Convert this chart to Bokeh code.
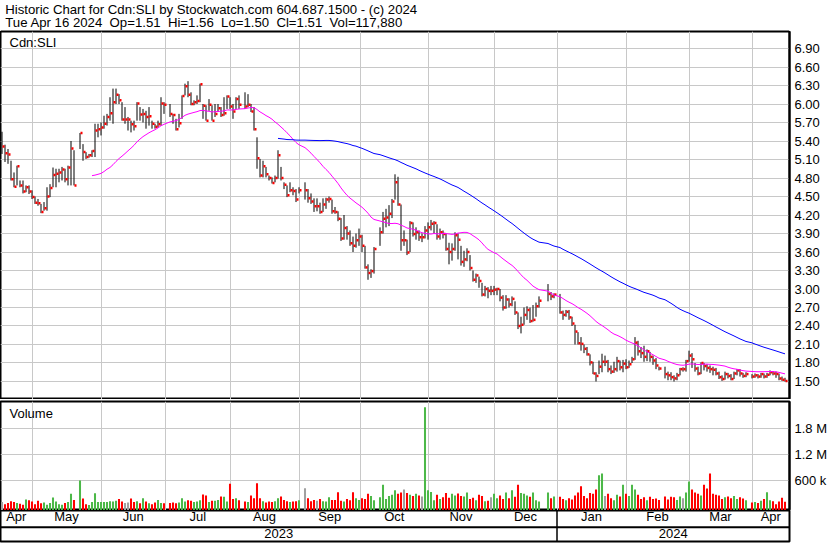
import numpy as np
import pandas as pd
from bokeh.plotting import figure
from bokeh.layouts import column
from bokeh.models import Range1d, FixedTicker, PrintfTickFormatter, Label, ColumnDataSource
from bokeh.core.properties import value
from bokeh.embed import file_html
from bokeh.resources import INLINE

FONT = "Liberation Sans"

# ---------------- data ----------------
first_day = "2023-04-17"
last_day = "2024-04-16"
holidays = ["2023-05-22", "2023-07-03", "2023-08-07", "2023-09-04", "2023-10-09",
            "2023-12-25", "2023-12-26", "2024-01-01", "2024-02-19", "2024-03-29"]

title_line1 = "Historic Chart for Cdn:SLI by Stockwatch.com 604.687.1500 - (c) 2024"
title_line2 = "Tue Apr 16 2024  Op=1.51  Hi=1.56  Lo=1.50  Cl=1.51  Vol=117,880"
symbol_label = "Cdn:SLI"
volume_label = "Volume"

price_ticks = [1.50, 1.80, 2.10, 2.40, 2.70, 3.00, 3.30, 3.60, 3.90, 4.20, 4.50,
               4.80, 5.10, 5.40, 5.70, 6.00, 6.30, 6.60, 6.90]
vol_ticks = [600000, 1200000, 1800000]
vol_tick_labels = ["600 k", "1.2 M", "1.8 M"]
month_labels = ["Apr", "May", "Jun", "Jul", "Aug", "Sep", "Oct", "Nov", "Dec",
                "Jan", "Feb", "Mar", "Apr"]
year_labels = ["2023", "2024"]

close_apr23 = [5.31, 5.20, 5.18, 4.78, 4.66, 4.99, 4.68, 4.58, 4.65, 4.58]
high_apr23 = [5.55, 5.34, 5.27, 5.08, 4.89, 5.00, 4.76, 4.76, 4.68, 4.68]
low_apr23 = [5.19, 5.06, 5.03, 4.76, 4.65, 4.68, 4.65, 4.55, 4.57, 4.54]
vol_apr23 = [110, 60, 90, 130, 110, 90, 70, 50, 170, 150]

close_may = [4.49, 4.40, 4.39, 4.25, 4.31, 4.50, 4.64, 4.85, 4.87, 4.89, 4.94, 4.78, 4.97, 5.28, 4.68, 5.53, 5.22, 5.14, 5.17, 5.24, 5.57, 5.59]
high_may = [4.60, 4.50, 4.46, 4.38, 4.41, 4.65, 4.70, 4.97, 4.95, 4.95, 4.98, 4.95, 5.00, 5.40, 5.25, 5.53, 5.35, 5.22, 5.19, 5.25, 5.68, 5.68]
low_may = [4.46, 4.38, 4.35, 4.23, 4.27, 4.27, 4.49, 4.65, 4.65, 4.73, 4.76, 4.73, 4.68, 4.68, 4.68, 5.27, 5.08, 5.11, 5.13, 5.14, 5.14, 5.46]
vol_may = [120, 60, 140, 80, 100, 50, 90, 215, 120, 60, 50, 90, 110, 300, 160, 610, 190, 60, 40, 110, 315, 110]

close_jun = [5.62, 5.68, 5.79, 5.85, 6.03, 6.15, 6.06, 5.75, 5.75, 5.75, 5.67, 5.64, 6.01, 5.83, 5.84, 5.79, 5.80, 5.68, 5.63, 5.67, 6.01, 5.99]
high_jun = [5.70, 5.81, 5.84, 6.11, 6.25, 6.25, 6.16, 6.03, 5.95, 5.79, 5.73, 5.73, 6.03, 5.95, 5.92, 5.89, 5.95, 5.73, 5.68, 5.73, 6.11, 6.03]
low_jun = [5.49, 5.60, 5.65, 5.73, 5.68, 6.00, 6.00, 5.73, 5.68, 5.57, 5.54, 5.57, 5.73, 5.73, 5.70, 5.60, 5.65, 5.60, 5.60, 5.62, 5.65, 5.84]
vol_jun = [110, 110, 110, 130, 120, 140, 180, 120, 90, 100, 190, 110, 130, 80, 200, 120, 80, 60, 100, 160, 90, 80]

close_jul = [5.84, 5.82, 5.59, 5.69, 6.13, 6.29, 6.15, 6.00, 6.03, 6.05, 6.32, 5.97, 5.73, 5.99, 5.73, 5.84, 5.93, 5.82, 5.85, 6.12]
high_jul = [6.00, 5.84, 5.76, 5.84, 6.14, 6.33, 6.37, 6.19, 6.06, 6.14, 6.33, 6.00, 5.98, 6.08, 5.98, 6.00, 6.00, 5.95, 6.11, 6.14]
low_jul = [5.79, 5.68, 5.57, 5.62, 5.76, 6.14, 6.11, 5.98, 5.98, 6.00, 6.03, 5.76, 5.73, 5.89, 5.73, 5.79, 5.87, 5.79, 5.81, 5.92]
vol_jul = [90, 100, 80, 100, 200, 120, 150, 140, 110, 120, 150, 285, 260, 110, 140, 140, 160, 240, 230, 120]

close_aug = [5.96, 5.88, 6.08, 5.99, 5.96, 5.99, 5.88, 5.59, 5.12, 4.84, 4.99, 4.86, 4.80, 4.72, 4.80, 5.17, 4.80, 4.69, 4.52, 4.60, 4.59, 4.45]
high_aug = [6.11, 6.00, 6.11, 6.14, 6.19, 6.16, 6.00, 5.95, 5.46, 5.11, 5.08, 4.98, 4.84, 4.81, 4.84, 5.25, 4.98, 4.73, 4.68, 4.73, 4.65, 4.62]
low_aug = [5.92, 5.76, 5.92, 5.92, 5.92, 5.95, 5.87, 5.57, 4.95, 4.81, 4.81, 4.81, 4.76, 4.71, 4.73, 4.79, 4.76, 4.62, 4.49, 4.57, 4.52, 4.41]
vol_aug = [530, 180, 200, 150, 120, 110, 260, 200, 546, 200, 130, 100, 120, 110, 130, 200, 240, 160, 130, 110, 120, 130]

close_sep = [4.60, 4.60, 4.47, 4.42, 4.34, 4.34, 4.25, 4.37, 4.45, 4.46, 4.26, 4.25, 4.14, 3.82, 3.99, 3.90, 3.74, 3.70, 3.79, 3.85]
high_sep = [4.65, 4.73, 4.62, 4.55, 4.47, 4.47, 4.40, 4.47, 4.48, 4.50, 4.45, 4.33, 4.26, 4.15, 4.20, 4.02, 3.95, 3.85, 3.90, 3.98]
low_sep = [4.55, 4.45, 4.40, 4.38, 4.25, 4.26, 4.22, 4.25, 4.30, 4.40, 4.22, 4.22, 4.10, 3.78, 3.80, 3.80, 3.70, 3.60, 3.67, 3.70]
vol_sep = [150, 431, 200, 130, 160, 140, 180, 130, 120, 220, 160, 160, 338, 140, 120, 180, 150, 338, 200, 160]

close_oct = [3.70, 3.35, 3.26, 3.29, 3.65, 3.92, 4.14, 4.16, 4.22, 4.42, 4.73, 4.37, 3.79, 3.79, 3.59, 4.07, 3.89, 3.92, 3.84, 3.84, 3.95]
high_oct = [3.88, 3.70, 3.40, 3.32, 3.68, 4.00, 4.25, 4.30, 4.36, 4.46, 4.86, 4.82, 4.37, 3.95, 3.80, 4.10, 4.08, 4.00, 3.95, 3.90, 4.02]
low_oct = [3.60, 3.33, 3.15, 3.18, 3.25, 3.70, 3.90, 4.00, 4.02, 4.15, 4.45, 4.35, 3.62, 3.70, 3.55, 3.60, 3.85, 3.80, 3.78, 3.76, 3.82]
vol_oct = [200, 180, 300, 250, 150, 220, 508, 180, 250, 280, 380, 300, 330, 400, 320, 280, 250, 300, 260, 240, 2300]

close_nov = [4.00, 4.06, 4.07, 3.85, 3.92, 3.89, 3.65, 3.60, 3.65, 3.87, 3.80, 3.44, 3.48, 3.60, 3.34, 3.15, 3.22, 3.13, 2.91, 3.00, 2.97, 2.97]
high_nov = [4.08, 4.12, 4.10, 4.05, 3.98, 3.95, 3.90, 3.75, 3.74, 3.92, 3.90, 3.70, 3.62, 3.66, 3.55, 3.30, 3.25, 3.20, 3.10, 3.05, 3.03, 3.05]
low_nov = [3.80, 3.95, 3.90, 3.80, 3.80, 3.82, 3.62, 3.40, 3.46, 3.62, 3.48, 3.38, 3.36, 3.45, 3.30, 3.12, 3.10, 3.02, 2.88, 2.88, 2.85, 2.90]
vol_nov = [380, 340, 150, 280, 180, 220, 320, 210, 300, 260, 310, 250, 240, 330, 180, 210, 150, 280, 250, 130, 140, 220]

close_dec = [2.99, 3.00, 2.86, 2.70, 2.83, 2.75, 2.84, 2.62, 2.40, 2.42, 2.58, 2.66, 2.48, 2.50, 2.72, 2.81, 2.92, 2.88, 2.91]
high_dec = [3.05, 3.02, 3.00, 2.90, 2.90, 2.85, 2.88, 2.80, 2.62, 2.55, 2.70, 2.72, 2.70, 2.74, 2.78, 2.88, 3.08, 2.95, 2.93]
low_dec = [2.90, 2.90, 2.80, 2.65, 2.68, 2.70, 2.72, 2.58, 2.35, 2.28, 2.42, 2.50, 2.45, 2.47, 2.55, 2.70, 2.80, 2.82, 2.85]
vol_dec = [300, 200, 260, 180, 330, 200, 380, 230, 508, 320, 300, 260, 230, 330, 150, 120, 330, 200, 240]

close_jan = [2.62, 2.58, 2.63, 2.54, 2.44, 2.31, 2.12, 2.11, 2.03, 1.94, 1.81, 1.63, 1.59, 1.74, 1.82, 1.82, 1.70, 1.66, 1.70, 1.83, 1.73, 1.79]
high_jan = [2.92, 2.65, 2.66, 2.66, 2.55, 2.42, 2.30, 2.22, 2.10, 2.06, 1.94, 1.82, 1.65, 1.84, 1.95, 1.92, 1.85, 1.76, 1.82, 1.90, 1.84, 1.85]
low_jan = [2.60, 2.50, 2.55, 2.50, 2.40, 2.10, 2.10, 2.00, 1.96, 1.92, 1.76, 1.62, 1.50, 1.62, 1.65, 1.75, 1.65, 1.62, 1.64, 1.66, 1.68, 1.65]
vol_jan = [230, 180, 150, 200, 170, 260, 330, 477, 250, 200, 320, 300, 400, 731, 769, 250, 300, 200, 150, 280, 240, 508]

close_feb = [1.73, 1.78, 1.86, 2.13, 1.99, 1.96, 1.90, 1.99, 1.90, 1.84, 1.76, 1.71, 1.62, 1.60, 1.57, 1.55, 1.60, 1.70, 1.70, 1.83]
high_feb = [1.86, 1.84, 1.90, 2.22, 2.16, 2.06, 2.08, 2.02, 1.98, 1.92, 1.88, 1.74, 1.74, 1.66, 1.65, 1.60, 1.64, 1.72, 1.73, 1.85]
low_feb = [1.70, 1.72, 1.80, 1.85, 1.92, 1.88, 1.82, 1.83, 1.82, 1.77, 1.70, 1.68, 1.55, 1.52, 1.52, 1.50, 1.52, 1.60, 1.66, 1.66]
vol_feb = [300, 250, 508, 400, 280, 180, 220, 150, 230, 180, 190, 160, 240, 170, 230, 220, 160, 240, 200, 330]

close_mar = [1.92, 1.86, 1.71, 1.63, 1.80, 1.75, 1.72, 1.70, 1.69, 1.63, 1.57, 1.54, 1.62, 1.59, 1.54, 1.63, 1.68, 1.63, 1.59, 1.62]
high_mar = [2.00, 1.96, 1.80, 1.74, 1.81, 1.80, 1.78, 1.76, 1.74, 1.72, 1.66, 1.60, 1.66, 1.64, 1.62, 1.66, 1.70, 1.70, 1.64, 1.65]
low_mar = [1.82, 1.72, 1.66, 1.60, 1.62, 1.68, 1.66, 1.64, 1.60, 1.60, 1.54, 1.51, 1.53, 1.55, 1.52, 1.54, 1.60, 1.58, 1.56, 1.57]
vol_mar = [585, 400, 330, 300, 260, 508, 420, 769, 300, 280, 260, 180, 220, 240, 200, 250, 180, 220, 190, 150]

close_apr24 = [1.58, 1.60, 1.58, 1.62, 1.58, 1.61, 1.65, 1.63, 1.62, 1.55, 1.53, 1.51]
high_apr24 = [1.62, 1.63, 1.62, 1.64, 1.63, 1.64, 1.68, 1.67, 1.66, 1.63, 1.58, 1.56]
low_apr24 = [1.55, 1.56, 1.55, 1.56, 1.55, 1.56, 1.60, 1.60, 1.56, 1.52, 1.51, 1.50]
vol_apr24 = [100, 110, 90, 140, 180, 338, 150, 130, 60, 120, 210, 117.88]

ma_short_days = 30
ma_long_days = 90

# ---------------- assemble ----------------
close = np.array(close_apr23 + close_may + close_jun + close_jul + close_aug + close_sep +
                 close_oct + close_nov + close_dec + close_jan + close_feb + close_mar + close_apr24)
high = np.array(high_apr23 + high_may + high_jun + high_jul + high_aug + high_sep +
                high_oct + high_nov + high_dec + high_jan + high_feb + high_mar + high_apr24)
low = np.array(low_apr23 + low_may + low_jun + low_jul + low_aug + low_sep +
               low_oct + low_nov + low_dec + low_jan + low_feb + low_mar + low_apr24)
volume = np.array(vol_apr23 + vol_may + vol_jun + vol_jul + vol_aug + vol_sep +
                  vol_oct + vol_nov + vol_dec + vol_jan + vol_feb + vol_mar + vol_apr24) * 1000.0

weekdays = pd.bdate_range(first_day, last_day)
trading = weekdays[~weekdays.isin(pd.to_datetime(holidays))]
xpos = np.asarray(weekdays.get_indexer(trading), dtype=float)

ma_short = pd.Series(close).rolling(ma_short_days).mean().to_numpy()
ma_long = pd.Series(close).rolling(ma_long_days).mean().to_numpy()

chg = np.diff(close, prepend=close[0])
vol_colors = np.where(chg > 0, "#4cb848", np.where(chg < 0, "#ff0000", "#a0a0a0"))

# calendar positions
x_start, x_end = -0.5, len(weekdays) + 0.5
month_first = pd.date_range("2023-05-01", "2024-04-01", freq="MS")
grid_pos = []
for d in month_first:
    k = weekdays.searchsorted(d)
    grid_pos.append(float(k) - (0.5 if d.weekday() >= 5 else 0.0))
edges = [x_start] + grid_pos + [x_end]
month_centers = [(edges[k] + edges[k + 1]) / 2 for k in range(len(edges) - 1)]
year_break = grid_pos[[d.month for d in month_first].index(1)]
year_centers = [(x_start + year_break) / 2, (year_break + x_end) / 2]

# ---------------- figures ----------------
W = 830
RIGHT = 41
GRID = "#c8c8c8"
xr = Range1d(x_start, x_end)

common = dict(output_backend="svg", toolbar_location=None, min_border_left=0,
              min_border_top=0, min_border_bottom=0)

# header
HH = 31
h = figure(width=W, height=HH, x_range=Range1d(0, W), y_range=Range1d(0, HH),
           x_axis_location=None, y_axis_location=None, min_border_right=0,
           outline_line_color=None, **common)
h.grid.visible = False
shown_line2 = title_line2.replace("  ", "\u00a0 ")
h.text(x=[5, 5], y=[22.3, 8.6], text=[title_line1, shown_line2], text_font=value(FONT),
       text_font_size="13.2px", text_color="black", text_baseline="alphabetic")
h.segment(x0=[0], y0=[0.5], x1=[W], y1=[0.5], line_color="black", line_width=1)

# price panel
PH = 368
p = figure(width=W, height=PH, x_range=xr, y_range=Range1d(1.208, 7.176),
           x_axis_location=None, y_axis_location="right", min_border_right=RIGHT, **common)
p.outline_line_color = "black"
p.outline_line_width = 2
p.yaxis.ticker = FixedTicker(ticks=price_ticks)
p.yaxis.formatter = PrintfTickFormatter(format="%.2f")
p.ygrid.ticker = FixedTicker(ticks=price_ticks)
p.xgrid.ticker = FixedTicker(ticks=grid_pos)
p.grid.grid_line_color = GRID
p.grid.grid_line_width = 1

src = ColumnDataSource(dict(x=xpos, xc=xpos + 0.5, h=high, l=low, c=close,
                            ma1=ma_short, ma2=ma_long))
p.segment(x0="x", y0="l", x1="x", y1="h", source=src, line_color="black", line_width=1)
p.rect(x="xc", y="c", width=2, height=2.5, width_units="screen", height_units="screen",
       source=src, fill_color="#ff0000", line_color=None)
p.line(x="x", y="ma1", source=src, line_color="#ff00ff", line_width=1)
p.line(x="x", y="ma2", source=src, line_color="#0000ff", line_width=1)
p.add_layout(Label(x=9, y=PH - 11.3, x_units="screen", y_units="screen", text=symbol_label,
                   text_font=FONT, text_font_size="13px", text_color="black",
                   text_baseline="alphabetic"))

# volume panel
VH = 111
vol_floor = -85000
v = figure(width=W, height=VH, x_range=xr, y_range=Range1d(vol_floor, 2430000),
           x_axis_location=None, y_axis_location="right", min_border_right=RIGHT,
           **{**common, "min_border_top": 2})
v.outline_line_color = "black"
v.outline_line_width = 2
v.yaxis.ticker = FixedTicker(ticks=vol_ticks)
v.yaxis.major_label_overrides = {t: s for t, s in zip(vol_ticks, vol_tick_labels)}
v.ygrid.ticker = FixedTicker(ticks=vol_ticks)
v.xgrid.ticker = FixedTicker(ticks=grid_pos)
v.grid.grid_line_color = GRID
v.grid.grid_line_width = 1
vsrc = ColumnDataSource(dict(x=xpos, top=volume, col=vol_colors))
v.vbar(x="x", top="top", bottom=vol_floor, width=0.68, source=vsrc,
       fill_color="col", line_color=None)
v.add_layout(Label(x=9, y=VH - 2 - 12.3, x_units="screen", y_units="screen", text=volume_label,
                   text_font=FONT, text_font_size="13px", text_color="black",
                   text_baseline="alphabetic"))

for fig in (p, v):
    ax = fig.yaxis[0]
    ax.major_tick_line_color = None
    ax.minor_tick_line_color = None
    ax.major_tick_out = 0
    ax.major_tick_in = 0
    ax.axis_line_color = "black"
    ax.axis_line_width = 2
    ax.major_label_text_font = FONT
    ax.major_label_text_font_size = "13px"
    ax.major_label_text_color = "black"
    ax.major_label_standoff = 5

# date axis rows
AH = 33
a = figure(width=W, height=AH, x_range=xr, y_range=Range1d(0, 2),
           x_axis_location=None, y_axis_location=None, min_border_right=RIGHT,
           **{**common, "min_border_bottom": 2})
a.grid.visible = False
a.outline_line_color = "black"
a.outline_line_width = 2
a.segment(x0=[x_start], y0=[0.92], x1=[x_end], y1=[0.92], line_color="black", line_width=2)
a.segment(x0=[year_break], y0=[0], x1=[year_break], y1=[2], line_color="black", line_width=1.5)
a.text(x=month_centers, y=[1.6] * len(month_centers), text=month_labels,
       text_font=value(FONT), text_font_size="13px", text_color="black",
       text_align="center", text_baseline="middle")
a.text(x=year_centers, y=[0.52] * len(year_centers), text=year_labels,
       text_font=value(FONT), text_font_size="13px", text_color="black",
       text_align="center", text_baseline="middle")

layout = column(h, p, v, a, spacing=0)
open("out.html", "w").write(file_html(layout, INLINE))
